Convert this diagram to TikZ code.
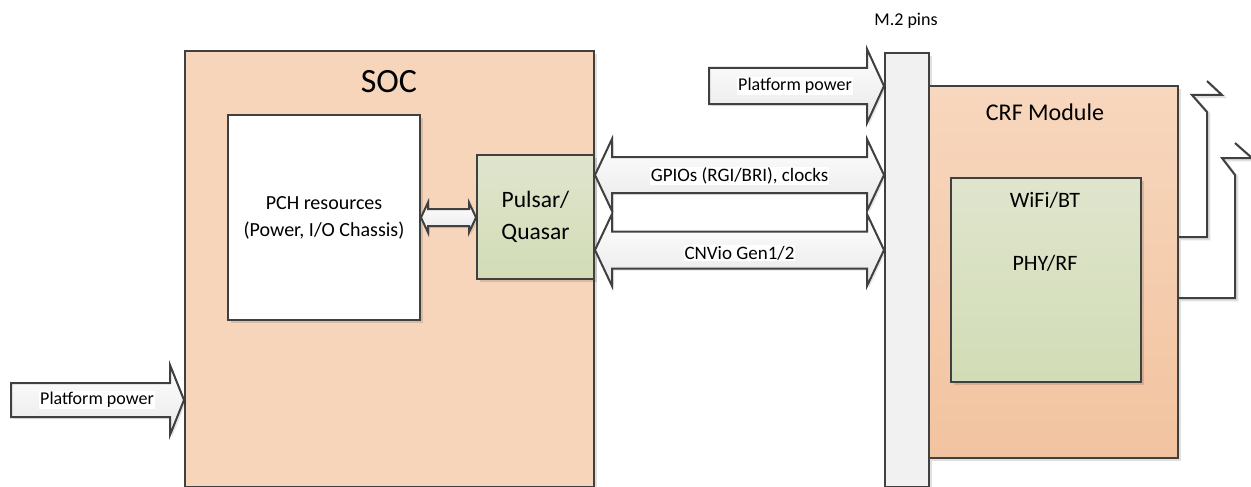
\documentclass[tikz,border=0pt]{standalone}
\usepackage{fontspec}
\setmainfont{Carlito}
\usetikzlibrary{calc,shadows}
\definecolor{edge}{HTML}{404040}
\definecolor{peach}{HTML}{F7D5BA}
\definecolor{peachtop}{HTML}{F7D7BE}
\definecolor{peachbot}{HTML}{F2C39F}
\definecolor{greentop}{HTML}{DFE5CD}
\definecolor{greenbot}{HTML}{D2DCB6}
\definecolor{greenbox}{HTML}{D3DDB8}
\definecolor{pinbar}{HTML}{F1F1F1}
\newcommand\dblarr[5]{% start, end, body half, head half, head length
  \path[blockarrow] let \p1=#1, \p2=#2 in
    (\x1,\y1) -- (\x1+#5,\y1+#4) -- (\x1+#5,\y1+#3) -- (\x2-#5,\y1+#3) -- (\x2-#5,\y1+#4)
    -- (\x2,\y1) -- (\x2-#5,\y1-#4) -- (\x2-#5,\y1-#3) -- (\x1+#5,\y1-#3) -- (\x1+#5,\y1-#4) -- cycle;}
\newcommand\sglarr[5]{% tail, tip, body half, head half, head length
  \path[blockarrow] let \p1=#1, \p2=#2 in
    (\x1,\y1+#3) -- (\x2-#5,\y1+#3) -- (\x2-#5,\y1+#4) -- (\x2,\y1)
    -- (\x2-#5,\y1-#4) -- (\x2-#5,\y1-#3) -- (\x1,\y1-#3) -- cycle;}
\tikzset{
  shad/.style={drop shadow={shadow xshift=3pt,shadow yshift=-3pt,fill=black,opacity=0.12}},
  box/.style={draw=edge, line width=2pt, inner sep=0pt, anchor=north west, shad},
  blockarrow/.style={draw=edge, line width=2pt, miter limit=20, top color=white, bottom color=black!9,
    drop shadow={shadow xshift=2pt,shadow yshift=-2pt,fill=black,opacity=0.10}},
  lbl/.style={font=\fontsize{19}{23}\selectfont, fill=white, inner sep=1pt},
  txt/.style={inner sep=0pt, align=center},
  wire/.style={draw=edge, line width=2pt, line join=miter,
    preaction={draw=black!12, line width=2.5pt, transform canvas={shift={(2pt,-2pt)}}}}
}
\begin{document}
\begin{tikzpicture}[x=1pt,y=-1pt]
\useasboundingbox[fill=white] (0,0) rectangle (1251,487);
% SOC
\node[box, fill=peach, minimum width=409pt, minimum height=436pt] (soc) at (184,50) {};
\node[txt, font=\fontsize{34}{40}\selectfont] (soclbl) at (389,82) {SOC};
\node[box, fill=white, minimum width=192pt, minimum height=205pt, align=center,
  font=\fontsize{20}{27}\selectfont] (pch) at (227,114) {PCH resources\\(Power, I/O Chassis)};
\node[box, top color=greentop, bottom color=greenbot, minimum width=117pt, minimum height=124pt, align=center,
  font=\fontsize{23.5}{32}\selectfont] (pulsar) at (476,154) {Pulsar/\\Quasar};
\dblarr{(pch.east)}{(pulsar.west)}{8.5pt}{15pt}{7pt}
% M.2 bar and module
\node[box, fill=pinbar, minimum width=44pt, minimum height=434pt] (m2) at (884,52) {};
\node[txt, font=\fontsize{18}{22}\selectfont] (m2lbl) at (906,21) {M.2 pins};
\node[box, top color=peachtop, bottom color=peachbot, minimum width=249pt, minimum height=372pt] (crf) at (928,85) {};
\node[txt, font=\fontsize{24}{28}\selectfont] (crflbl) at (1045,112) {CRF Module};
\node[box, top color=greentop, bottom color=greenbot, minimum width=190pt, minimum height=204pt] (wifi) at (950,177) {};
\node[txt, font=\fontsize{22}{26}\selectfont] (wifilbl) at (1045,200) {WiFi/BT};
\node[txt, font=\fontsize{22}{26}\selectfont] (phylbl) at (1045,263) {PHY/RF};
% bus arrows
\coordinate (g1) at ($(pulsar.east)+(0,-42)$);
\coordinate (g2) at (g1 -| m2.west);
\coordinate (c1) at ($(pulsar.east)+(0,33)$);
\coordinate (c2) at (c1 -| m2.west);
\dblarr{(g1)}{(g2)}{18pt}{36pt}{17pt}
\dblarr{(c1)}{(c2)}{18.5pt}{36pt}{17pt}
\node[lbl] (gpiolbl) at ($(g1)!0.5!(g2)+(0,1)$) {GPIOs (RGI/BRI), clocks};
\node[lbl] (cnvlbl) at ($(c1)!0.5!(c2)+(0,3)$) {CNVio Gen1/2};
% platform power arrows
\coordinate (pp1) at (709,86);
\coordinate (pp1e) at (pp1 -| m2.west);
\sglarr{(pp1)}{(pp1e)}{18pt}{37pt}{17pt}
\node[lbl, font=\fontsize{18}{22}\selectfont] (pp1lbl) at (795,86) {Platform power};
\coordinate (pp2) at (11,400);
\coordinate (pp2e) at (pp2 -| soc.west);
\sglarr{(pp2)}{(pp2e)}{17pt}{35pt}{14pt}
\node[lbl, font=\fontsize{18}{22}\selectfont] (pp2lbl) at (97,400) {Platform power};
% antennas
\path[wire] ($(crf.north east)+(0,152)$) -- ++(28,0) -- ++(0,-125) -- ++(-15,-17) -- ++(30,0) -- ++(-15,-14);
\path[wire] ($(crf.north east)+(0,213)$) -- ++(56,0) -- ++(0,-123) -- ++(-13,-17) -- ++(30,0) -- ++(-17,-15);
\end{tikzpicture}
\end{document}
